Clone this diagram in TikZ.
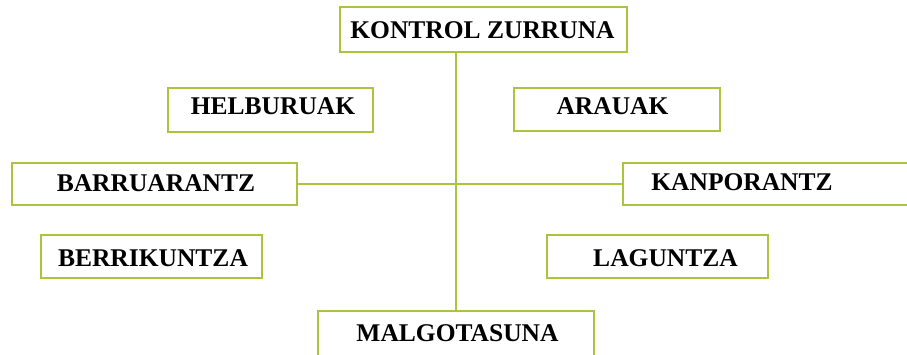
\documentclass[tikz,border=0pt]{standalone}
\usepackage{fontspec}
\setmainfont{Liberation Serif}
\definecolor{boxgreen}{RGB}{170,196,62}
\begin{document}
\begin{tikzpicture}[x=1pt,y=-1pt,
  box/.style={draw=boxgreen,line width=1.4pt,fill=white,inner sep=0pt},
  lbl/.style={inner sep=0pt,font=\fontsize{25.5}{30}\selectfont\bfseries,text=black},
  conn/.style={draw=boxgreen,line width=1.4pt}]
\useasboundingbox (0,0) rectangle (907,354);
\clip (0,0) rectangle (907,354);
\fill[white] (0,0) rectangle (907,354);
% boxes
\node[box,minimum width=287pt,minimum height=45pt] (k) at (483.5,29.5) {};
\node[box,minimum width=205pt,minimum height=44pt] (h) at (270.5,110) {};
\node[box,minimum width=206pt,minimum height=43pt] (a) at (617,109.5) {};
\node[box,minimum width=285pt,minimum height=42pt] (b) at (154.5,184) {};
\node[box,minimum width=310pt,minimum height=42pt] (kp) at (778,184) {};
\node[box,minimum width=221pt,minimum height=43pt] (be) at (151.5,256.5) {};
\node[box,minimum width=221pt,minimum height=43pt] (l) at (657.5,256.5) {};
\node[box,minimum width=276pt,minimum height=60pt] (m) at (456,341) {};
% connectors
\draw[conn] (k.south -| m.north) -- (m.north);
\draw[conn] (b.east) -- (kp.west);
% labels
\node[lbl] (tk) at (482.5,30) {KONTROL ZURRUNA};
\node[lbl] (th) at (273,106.5) {HELBURUAK};
\node[lbl] (ta) at (612.5,106.5) {ARAUAK};
\node[lbl] (tb) at (156,183) {BARRUARANTZ};
\node[lbl] (tkp) at (742,182) {KANPORANTZ};
\node[lbl] (tbe) at (153,258.5) {BERRIKUNTZA};
\node[lbl] (tl) at (665.5,258.5) {LAGUNTZA};
\node[lbl] (tm) at (457.5,333) {MALGOTASUNA};
\end{tikzpicture}
\end{document}
